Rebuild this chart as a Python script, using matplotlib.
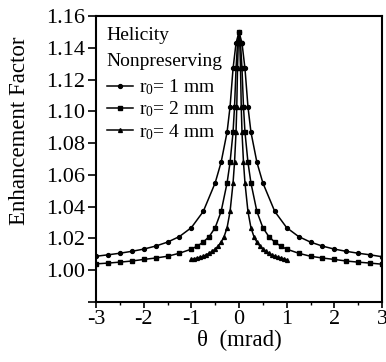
import matplotlib
matplotlib.use("Agg")
import matplotlib.pyplot as plt

plt.rcParams['font.family'] = ['Liberation Serif', 'DejaVu Serif']
plt.rcParams['mathtext.fontset'] = 'custom'
plt.rcParams['mathtext.rm'] = 'Liberation Serif'

# r0 = 1 mm
x1 = [-3.0, -2.75, -2.5, -2.25, -2.0, -1.75, -1.5, -1.25, -1.0, -0.75, -0.5, -0.375, -0.25, -0.1875, -0.125, -0.0625, 0.0,
      0.0625, 0.125, 0.1875, 0.25, 0.375, 0.5, 0.75, 1.0, 1.25, 1.5, 1.75, 2.0, 2.25, 2.5, 2.75, 3.0]
y1 = [1.0088, 1.0097, 1.0107, 1.0119, 1.0133, 1.0152, 1.0177, 1.0212, 1.0268, 1.0370, 1.0550, 1.0680, 1.0870, 1.1030, 1.1270, 1.1430, 1.1500,
      1.1430, 1.1270, 1.1030, 1.0870, 1.0680, 1.0550, 1.0370, 1.0268, 1.0212, 1.0177, 1.0152, 1.0133, 1.0119, 1.0107, 1.0097, 1.0085]

# r0 = 2 mm
x2 = [-3.0, -2.75, -2.5, -2.25, -2.0, -1.75, -1.5, -1.25, -1.0, -0.875, -0.75, -0.625, -0.5, -0.375, -0.25,
      -0.1875, -0.125, -0.09375, -0.0625, -0.03125, 0.0, 0.03125, 0.0625, 0.09375, 0.125, 0.1875, 0.25,
      0.375, 0.5, 0.625, 0.75, 0.875, 1.0, 1.25, 1.5, 1.75, 2.0, 2.25, 2.5, 2.75, 3.0]
y2 = [1.0040, 1.0045, 1.0051, 1.0058, 1.0068, 1.0077, 1.0088, 1.0107, 1.0133, 1.0152, 1.0177, 1.0212, 1.0268, 1.0370, 1.0550,
      1.0680, 1.0870, 1.1030, 1.1270, 1.1430, 1.1500, 1.1430, 1.1270, 1.1030, 1.0870, 1.0680, 1.0550,
      1.0370, 1.0268, 1.0212, 1.0177, 1.0152, 1.0133, 1.0107, 1.0088, 1.0077, 1.0068, 1.0058, 1.0051, 1.0045, 1.0038]

# r0 = 4 mm
x3 = [-1.0, -0.9375, -0.875, -0.8125, -0.75, -0.6875, -0.625, -0.5625, -0.5, -0.4375, -0.375, -0.3125, -0.25,
      -0.1875, -0.125, -0.09375, -0.0625, -0.046875, -0.03125, -0.015625, 0.0, 0.015625, 0.03125, 0.046875,
      0.0625, 0.09375, 0.125, 0.1875, 0.25, 0.3125, 0.375, 0.4375, 0.5, 0.5625, 0.625, 0.6875, 0.75, 0.8125,
      0.875, 0.9375, 1.0]
y3 = [1.0068, 1.0072, 1.0077, 1.0082, 1.0088, 1.0097, 1.0107, 1.0119, 1.0133, 1.0152, 1.0177, 1.0212, 1.0268,
      1.0370, 1.0550, 1.0680, 1.0870, 1.1030, 1.1270, 1.1430, 1.1500, 1.1430, 1.1270, 1.1030,
      1.0870, 1.0680, 1.0550, 1.0370, 1.0268, 1.0212, 1.0177, 1.0152, 1.0133, 1.0119, 1.0107, 1.0097, 1.0088, 1.0082,
      1.0077, 1.0072, 1.0066]

labels = [r'$\mathregular{r_0}$= 1 mm', r'$\mathregular{r_0}$= 2 mm', r'$\mathregular{r_0}$= 4 mm']
xticks = [-3, -2, -1, 0, 1, 2, 3]
xminor = [-2.5, -1.5, -0.5, 0.5, 1.5, 2.5]
yticks = [0.98, 1.00, 1.02, 1.04, 1.06, 1.08, 1.10, 1.12, 1.14, 1.16]

fig = plt.figure(figsize=(3.86, 3.62), dpi=100)
ax = fig.add_axes([0.2487, 0.1657, 0.741, 0.790])

ax.plot(x1, y1, '-o', color='black', lw=1.1, ms=2.8, label=labels[0])
ax.plot(x2, y2, '-s', color='black', lw=1.1, ms=2.6, label=labels[1])
ax.plot(x3, y3, '-^', color='black', lw=1.1, ms=2.8, label=labels[2])

ax.set_xticks(xticks)
ax.set_xticks(xminor, minor=True)
ax.set_xticklabels([str(v) for v in xticks])
ax.set_yticks(yticks)
ax.set_yticklabels([''] + ['%.2f' % v for v in yticks[1:]])
ax.set_xlim(-3, 3)
ax.set_ylim(0.98, 1.16)

ax.tick_params(axis='both', which='major', direction='out', labelsize=16, width=1.2)
ax.tick_params(axis='x', which='major', length=4, pad=1.5)
ax.tick_params(axis='x', which='minor', direction='out', length=2.5, width=1.0)
ax.tick_params(axis='y', which='major', length=6, pad=2)
for s in ax.spines.values():
    s.set_linewidth(1.5)

ax.set_xlabel(u'\u03b8  (mrad)', fontsize=16.5, labelpad=1)
ax.set_ylabel('Enhancement Factor', fontsize=16.5)
ax.yaxis.set_label_coords(-0.23, 0.598)

ax.text(0.035, 0.962, 'Helicity', transform=ax.transAxes, fontsize=14, va='top', ha='left')
ax.text(0.035, 0.872, 'Nonpreserving', transform=ax.transAxes, fontsize=14, va='top', ha='left')
ax.legend(loc='upper left', bbox_to_anchor=(0.038, 0.785), frameon=False, fontsize=14,
          handlelength=1.35, handletextpad=0.3, labelspacing=0.13, borderpad=0, borderaxespad=0)

fig.savefig('out.png', dpi=100)
